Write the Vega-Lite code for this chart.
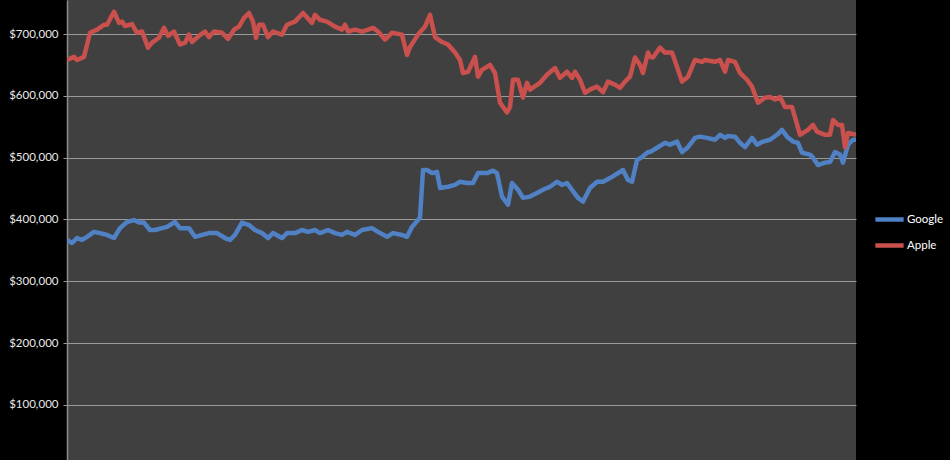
{
  "$schema": "https://vega.github.io/schema/vega-lite/v6.json",
  "width": 789,
  "height": 460,
  "autosize": {"type": "none"},
  "padding": {"left": 67, "top": 0, "right": 94, "bottom": 0},
  "background": "#000000",
  "config": {
    "view": {"fill": "#404040", "stroke": null},
    "font": "Lato"
  },
  "datasets": {
    "google": [
      {"t":0,"v":367000},{"t":5,"v":362000},{"t":10,"v":370000},{"t":15,"v":367000},{"t":20,"v":372000},{"t":27,"v":380000},{"t":33,"v":378000},{"t":40,"v":375000},{"t":47,"v":370000},{"t":53,"v":386000},{"t":60,"v":396000},{"t":67,"v":399000},{"t":72,"v":395000},{"t":77,"v":395000},{"t":83,"v":383000},{"t":88,"v":383000},{"t":95,"v":386000},{"t":100,"v":388000},{"t":108,"v":396000},{"t":113,"v":386000},{"t":122,"v":386000},{"t":128,"v":372000},{"t":135,"v":375000},{"t":142,"v":378000},{"t":150,"v":378000},{"t":158,"v":370000},{"t":163,"v":367000},{"t":168,"v":375000},{"t":175,"v":395000},{"t":182,"v":391000},{"t":188,"v":383000},{"t":195,"v":378000},{"t":201,"v":370000},{"t":206,"v":378000},{"t":215,"v":370000},{"t":220,"v":378000},{"t":228,"v":378000},{"t":235,"v":383000},{"t":241,"v":380000},{"t":248,"v":383000},{"t":253,"v":378000},{"t":261,"v":383000},{"t":268,"v":378000},{"t":275,"v":375000},{"t":280,"v":380000},{"t":288,"v":375000},{"t":295,"v":383000},{"t":305,"v":386000},{"t":311,"v":380000},{"t":320,"v":372000},{"t":326,"v":378000},{"t":335,"v":375000},{"t":340,"v":372000},{"t":345,"v":388000},{"t":353,"v":403000},{"t":356,"v":480000},{"t":360,"v":480000},{"t":365,"v":475000},{"t":370,"v":477000},{"t":373,"v":451000},{"t":381,"v":453000},{"t":388,"v":456000},{"t":393,"v":461000},{"t":400,"v":459000},{"t":406,"v":459000},{"t":411,"v":475000},{"t":420,"v":475000},{"t":426,"v":479000},{"t":430,"v":475000},{"t":435,"v":437000},{"t":441,"v":424000},{"t":445,"v":459000},{"t":451,"v":448000},{"t":456,"v":435000},{"t":463,"v":437000},{"t":470,"v":443000},{"t":476,"v":448000},{"t":483,"v":453000},{"t":490,"v":461000},{"t":495,"v":456000},{"t":500,"v":459000},{"t":505,"v":448000},{"t":511,"v":435000},{"t":516,"v":429000},{"t":523,"v":451000},{"t":530,"v":461000},{"t":536,"v":461000},{"t":543,"v":467000},{"t":551,"v":475000},{"t":556,"v":480000},{"t":561,"v":464000},{"t":565,"v":461000},{"t":570,"v":496000},{"t":575,"v":501000},{"t":581,"v":509000},{"t":583,"v":509000},{"t":590,"v":516000},{"t":598,"v":524000},{"t":603,"v":521000},{"t":610,"v":526000},{"t":615,"v":509000},{"t":621,"v":517000},{"t":628,"v":532000},{"t":633,"v":534000},{"t":640,"v":532000},{"t":648,"v":529000},{"t":653,"v":537000},{"t":658,"v":532000},{"t":661,"v":535000},{"t":668,"v":534000},{"t":673,"v":524000},{"t":678,"v":517000},{"t":685,"v":532000},{"t":690,"v":521000},{"t":696,"v":526000},{"t":703,"v":529000},{"t":710,"v":537000},{"t":715,"v":545000},{"t":720,"v":534000},{"t":726,"v":526000},{"t":731,"v":524000},{"t":735,"v":508000},{"t":743,"v":505000},{"t":746,"v":500000},{"t":751,"v":488000},{"t":758,"v":492000},{"t":763,"v":493000},{"t":768,"v":509000},{"t":773,"v":505000},{"t":776,"v":492000},{"t":781,"v":521000},{"t":786,"v":529000},{"t":789,"v":529000}
    ],
    "apple": [
      {"t":0,"v":658000},{"t":7,"v":663000},{"t":10,"v":658000},{"t":17,"v":663000},{"t":23,"v":702000},{"t":30,"v":707000},{"t":37,"v":715000},{"t":40,"v":715000},{"t":47,"v":736000},{"t":52,"v":718000},{"t":55,"v":720000},{"t":58,"v":713000},{"t":65,"v":716000},{"t":70,"v":702000},{"t":75,"v":704000},{"t":81,"v":678000},{"t":85,"v":686000},{"t":92,"v":694000},{"t":97,"v":710000},{"t":101,"v":697000},{"t":107,"v":704000},{"t":113,"v":683000},{"t":118,"v":686000},{"t":122,"v":699000},{"t":125,"v":687000},{"t":132,"v":697000},{"t":138,"v":704000},{"t":142,"v":695000},{"t":147,"v":704000},{"t":155,"v":702000},{"t":161,"v":692000},{"t":167,"v":707000},{"t":172,"v":712000},{"t":177,"v":726000},{"t":182,"v":734000},{"t":186,"v":720000},{"t":189,"v":694000},{"t":192,"v":715000},{"t":196,"v":715000},{"t":201,"v":695000},{"t":206,"v":704000},{"t":215,"v":699000},{"t":220,"v":715000},{"t":228,"v":720000},{"t":236,"v":734000},{"t":245,"v":718000},{"t":248,"v":731000},{"t":253,"v":723000},{"t":260,"v":720000},{"t":268,"v":712000},{"t":275,"v":707000},{"t":278,"v":715000},{"t":281,"v":704000},{"t":288,"v":707000},{"t":295,"v":704000},{"t":301,"v":707000},{"t":306,"v":710000},{"t":311,"v":704000},{"t":318,"v":691000},{"t":325,"v":702000},{"t":335,"v":699000},{"t":340,"v":666000},{"t":343,"v":679000},{"t":351,"v":699000},{"t":358,"v":712000},{"t":363,"v":731000},{"t":368,"v":695000},{"t":375,"v":687000},{"t":381,"v":683000},{"t":388,"v":670000},{"t":393,"v":658000},{"t":396,"v":637000},{"t":401,"v":639000},{"t":408,"v":663000},{"t":411,"v":631000},{"t":415,"v":642000},{"t":423,"v":650000},{"t":428,"v":637000},{"t":433,"v":589000},{"t":440,"v":573000},{"t":443,"v":582000},{"t":446,"v":626000},{"t":451,"v":626000},{"t":456,"v":597000},{"t":460,"v":621000},{"t":463,"v":610000},{"t":473,"v":621000},{"t":480,"v":634000},{"t":488,"v":645000},{"t":493,"v":629000},{"t":500,"v":639000},{"t":505,"v":629000},{"t":508,"v":639000},{"t":513,"v":626000},{"t":518,"v":605000},{"t":523,"v":610000},{"t":530,"v":615000},{"t":536,"v":606000},{"t":541,"v":623000},{"t":548,"v":618000},{"t":553,"v":613000},{"t":558,"v":623000},{"t":563,"v":631000},{"t":568,"v":662000},{"t":573,"v":650000},{"t":576,"v":637000},{"t":581,"v":670000},{"t":583,"v":663000},{"t":586,"v":662000},{"t":593,"v":678000},{"t":598,"v":670000},{"t":605,"v":670000},{"t":610,"v":647000},{"t":615,"v":623000},{"t":621,"v":631000},{"t":628,"v":658000},{"t":635,"v":655000},{"t":638,"v":658000},{"t":648,"v":655000},{"t":653,"v":658000},{"t":658,"v":639000},{"t":661,"v":658000},{"t":668,"v":655000},{"t":673,"v":637000},{"t":680,"v":626000},{"t":685,"v":615000},{"t":691,"v":589000},{"t":698,"v":597000},{"t":703,"v":598000},{"t":708,"v":594000},{"t":713,"v":598000},{"t":718,"v":582000},{"t":725,"v":582000},{"t":733,"v":537000},{"t":741,"v":545000},{"t":746,"v":553000},{"t":750,"v":542000},{"t":758,"v":537000},{"t":763,"v":537000},{"t":766,"v":561000},{"t":771,"v":553000},{"t":775,"v":553000},{"t":778,"v":517000},{"t":781,"v":540000},{"t":789,"v":537000}
    ]
  },
  "encoding": {
    "x": {"field": "t", "type": "quantitative", "scale": {"domain": [0, 789], "nice": false, "zero": false}, "axis": null},
    "y": {
      "field": "v", "type": "quantitative",
      "scale": {"domain": [11000, 755000], "nice": false, "zero": false},
      "axis": {
        "title": null,
        "values": [100000, 200000, 300000, 400000, 500000, 600000, 700000],
        "format": "$,.0f",
        "domain": true, "domainColor": "#8c8c8c", "domainWidth": 1.5,
        "grid": true, "gridColor": "#9a9a9a", "gridWidth": 1.2, "gridOpacity": 1,
        "ticks": true, "tickColor": "#9a9a9a", "tickSize": 4,
        "labelColor": "#e8e8e8", "labelFontSize": 11.5, "labelPadding": 5,
        "labelFont": "Lato"
      }
    },
    "color": {
      "field": "company", "type": "nominal",
      "scale": {"domain": ["Google", "Apple"], "range": ["#4f81c4", "#c9504d"]},
      "legend": {
        "title": null, "orient": "none", "legendX": 806, "legendY": 203,
        "symbolType": "stroke", "symbolSize": 800, "symbolStrokeWidth": 4.5,
        "labelColor": "#ffffff", "labelFontSize": 11.5, "labelFont": "Lato", "labelOffset": 1,
        "rowPadding": -8
      }
    }
  },
  "layer": [
    {
      "data": {"name": "google"},
      "transform": [{"calculate": "'Google'", "as": "company"}],
      "mark": {"type": "line", "strokeWidth": 4.5, "strokeJoin": "round", "clip": true}
    },
    {
      "data": {"name": "apple"},
      "transform": [{"calculate": "'Apple'", "as": "company"}],
      "mark": {"type": "line", "strokeWidth": 4.5, "strokeJoin": "round", "clip": true}
    }
  ]
}
